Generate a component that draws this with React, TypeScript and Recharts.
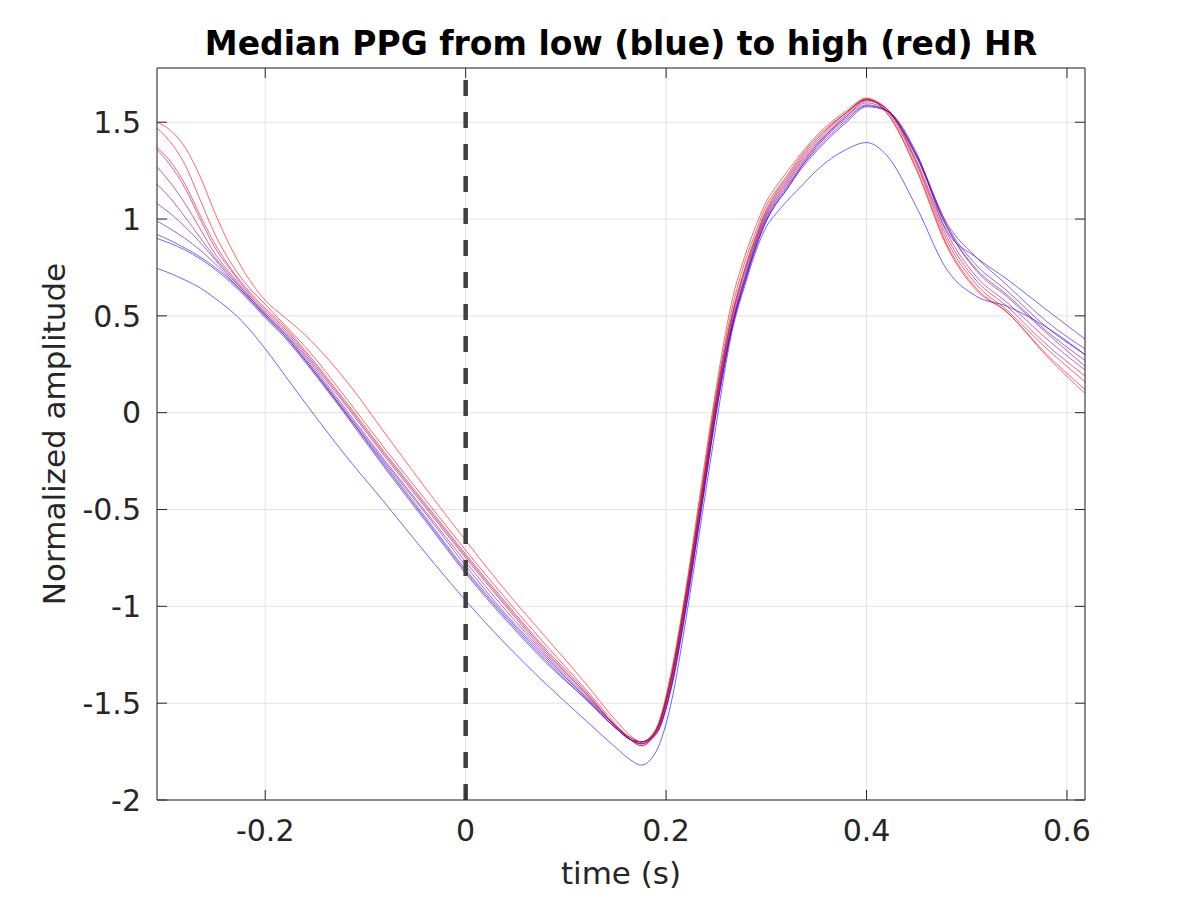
import { LineChart, Line, XAxis, YAxis, CartesianGrid, ReferenceLine, Label } from "recharts";

// time axis (s) shared by every median beat
const TIME = [
  -0.308, -0.295, -0.28, -0.265, -0.25, -0.235, -0.22, -0.2, -0.18, -0.16,
  -0.12, -0.08, -0.04, 0, 0.04, 0.08, 0.12, 0.15, 0.165, 0.175, 0.19, 0.205, 0.22, 0.235, 0.25, 0.265,
  0.28, 0.29, 0.3, 0.31, 0.32, 0.335, 0.35,
  0.38, 0.4, 0.42, 0.45, 0.48, 0.51, 0.54, 0.58, 0.618,
];

// median PPG per HR bin, low HR (blue) -> high HR (red)
const HR01 = [
  0.745, 0.72, 0.685, 0.645, 0.59, 0.53, 0.455, 0.33, 0.19, 0.05,
  -0.22, -0.47, -0.725, -0.97, -1.195, -1.4, -1.59, -1.73, -1.795, -1.82, -1.75, -1.5, -1.06, -0.56, -0.06, 0.4,
  0.68, 0.84, 0.96, 1.03, 1.09, 1.17, 1.25,
  1.36, 1.395, 1.33, 1.06, 0.74, 0.6, 0.55, 0.44, 0.3,
];
const HR02 = [
  0.9, 0.875, 0.84, 0.795, 0.74, 0.675, 0.6, 0.49, 0.385, 0.26,
  -0.01, -0.29, -0.56, -0.83, -1.07, -1.29, -1.48, -1.63, -1.69, -1.7, -1.66, -1.42, -1.0, -0.5, 0.0, 0.42,
  0.7, 0.86, 0.99, 1.08, 1.15, 1.26, 1.35,
  1.5, 1.58, 1.56, 1.34, 0.94, 0.8, 0.69, 0.53, 0.38,
];
const HR03 = [
  0.92, 0.89, 0.85, 0.805, 0.75, 0.685, 0.61, 0.5, 0.395, 0.27,
  0.0, -0.28, -0.55, -0.82, -1.06, -1.28, -1.48, -1.63, -1.69, -1.71, -1.66, -1.43, -1.01, -0.51, 0.0, 0.42,
  0.7, 0.86, 0.99, 1.08, 1.15, 1.27, 1.36,
  1.51, 1.585, 1.56, 1.33, 0.98, 0.8, 0.66, 0.47, 0.33,
];
const HR04 = [
  0.99, 0.95, 0.9, 0.84, 0.77, 0.69, 0.61, 0.5, 0.395, 0.27,
  0.0, -0.27, -0.54, -0.81, -1.05, -1.27, -1.47, -1.63, -1.69, -1.7, -1.65, -1.41, -0.99, -0.49, 0.02, 0.43,
  0.71, 0.87, 1.0, 1.09, 1.16, 1.27, 1.37,
  1.52, 1.59, 1.56, 1.33, 0.97, 0.76, 0.63, 0.44, 0.3,
];
const HR05 = [
  1.08, 1.03, 0.96, 0.88, 0.79, 0.7, 0.62, 0.51, 0.405, 0.28,
  0.01, -0.26, -0.52, -0.79, -1.04, -1.26, -1.47, -1.62, -1.68, -1.7, -1.65, -1.4, -0.98, -0.48, 0.03, 0.44,
  0.72, 0.88, 1.01, 1.1, 1.17, 1.28, 1.38,
  1.53, 1.6, 1.56, 1.32, 0.96, 0.74, 0.61, 0.42, 0.27,
];
const HR06 = [
  1.18, 1.11, 1.01, 0.905, 0.8, 0.71, 0.62, 0.51, 0.41, 0.29,
  0.02, -0.25, -0.51, -0.77, -1.02, -1.25, -1.46, -1.62, -1.68, -1.7, -1.64, -1.38, -0.96, -0.47, 0.04, 0.45,
  0.73, 0.89, 1.02, 1.11, 1.18, 1.29, 1.38,
  1.53, 1.61, 1.57, 1.32, 0.96, 0.73, 0.6, 0.41, 0.24,
];
const HR07 = [
  1.27, 1.19, 1.08, 0.95, 0.82, 0.72, 0.63, 0.52, 0.42, 0.3,
  0.04, -0.23, -0.49, -0.75, -1.0, -1.24, -1.45, -1.62, -1.69, -1.71, -1.64, -1.38, -0.95, -0.45, 0.06, 0.47,
  0.75, 0.9, 1.03, 1.12, 1.19, 1.3, 1.39,
  1.54, 1.615, 1.57, 1.3, 0.93, 0.7, 0.57, 0.38, 0.22,
];
const HR08 = [
  1.36, 1.28, 1.16, 1.0, 0.85, 0.74, 0.64, 0.53, 0.43, 0.31,
  0.05, -0.22, -0.48, -0.74, -0.99, -1.23, -1.45, -1.62, -1.69, -1.71, -1.64, -1.37, -0.94, -0.44, 0.07, 0.48,
  0.76, 0.91, 1.04, 1.13, 1.2, 1.31, 1.4,
  1.55, 1.62, 1.57, 1.29, 0.91, 0.68, 0.55, 0.35, 0.19,
];
const HR09 = [
  1.37, 1.3, 1.18, 1.02, 0.87, 0.75, 0.65, 0.54, 0.44, 0.32,
  0.06, -0.21, -0.47, -0.73, -0.98, -1.22, -1.44, -1.62, -1.69, -1.72, -1.65, -1.37, -0.93, -0.43, 0.08, 0.49,
  0.77, 0.92, 1.05, 1.14, 1.21, 1.32, 1.41,
  1.55, 1.615, 1.56, 1.28, 0.89, 0.66, 0.53, 0.33, 0.16,
];
const HR10 = [
  1.47, 1.4, 1.28, 1.1, 0.92, 0.78, 0.67, 0.56, 0.45, 0.34,
  0.08, -0.19, -0.45, -0.71, -0.96, -1.2, -1.43, -1.61, -1.69, -1.72, -1.64, -1.36, -0.92, -0.41, 0.1, 0.52,
  0.8, 0.94, 1.07, 1.15, 1.22, 1.33, 1.42,
  1.55, 1.62, 1.55, 1.26, 0.87, 0.64, 0.52, 0.3, 0.12,
];
const HR11 = [
  1.5, 1.46, 1.37, 1.22, 1.03, 0.86, 0.72, 0.58, 0.49, 0.4,
  0.17, -0.11, -0.39, -0.66, -0.92, -1.16, -1.4, -1.59, -1.67, -1.7, -1.63, -1.34, -0.9, -0.38, 0.13, 0.56,
  0.83, 0.97, 1.09, 1.17, 1.24, 1.34, 1.43,
  1.56, 1.625, 1.55, 1.25, 0.86, 0.63, 0.52, 0.29, 0.1,
];

const SERIES = [HR01, HR02, HR03, HR04, HR05, HR06, HR07, HR08, HR09, HR10, HR11];
const COLORS = [
  "#0000ff", "#1a00e6", "#3300cc", "#4d00b3", "#660099", "#800080",
  "#990066", "#b3004d", "#cc0033", "#e6001a", "#ff0000",
];

const X_TICKS = [-0.2, 0, 0.2, 0.4, 0.6];
const Y_TICKS = [-2, -1.5, -1, -0.5, 0, 0.5, 1, 1.5];
const X_DOMAIN: [number, number] = [-0.308, 0.618];
const Y_DOMAIN: [number, number] = [-2, 1.78];

const data = TIME.map((t, i) => {
  const row: Record<string, number> = { t };
  SERIES.forEach((s, k) => {
    row[`s${k}`] = s[i];
  });
  return row;
});

const FONT = "'DejaVu Sans', sans-serif";
const INK = "#262626";
const noTick = () => <g />;

export default function App() {
  return (
    <div style={{ position: "absolute", left: 0, top: 0, width: 1200, height: 900, background: "#fff" }}>
      <LineChart width={1200} height={900} data={data} margin={{ top: 0, right: 0, bottom: 0, left: 0 }}>
        <CartesianGrid stroke="#e2e2e2" strokeWidth={1} />
        <XAxis
          dataKey="t"
          type="number"
          domain={X_DOMAIN}
          ticks={X_TICKS}
          tickFormatter={(v) => String(v)}
          height={100}
          stroke={INK}
          tickSize={-10}
          tickMargin={30}
          tick={{ fill: INK, fontSize: 30, fontFamily: FONT }}
          allowDataOverflow
        >
          <Label value="time (s)" position="insideBottom" offset={16} fill={INK} fontSize={31} fontFamily={FONT} />
        </XAxis>
        <XAxis
          xAxisId="top"
          orientation="top"
          dataKey="t"
          type="number"
          domain={X_DOMAIN}
          ticks={X_TICKS}
          height={68}
          stroke={INK}
          tickSize={-10}
          tick={noTick}
          allowDataOverflow
        >
          <Label
            value="Median PPG from low (blue) to high (red) HR"
            position="insideTop"
            offset={32}
            fill="#000"
            fontSize={33}
            fontWeight="bold"
            fontFamily={FONT}
          />
        </XAxis>
        <YAxis
          type="number"
          domain={Y_DOMAIN}
          ticks={Y_TICKS}
          tickFormatter={(v) => String(v)}
          width={157}
          stroke={INK}
          tickSize={-10}
          tickMargin={26}
          tick={{ fill: INK, fontSize: 30, fontFamily: FONT }}
          allowDataOverflow
        >
          <Label
            value="Normalized amplitude"
            angle={-90}
            position="insideLeft"
            offset={54}
            fill={INK}
            fontSize={31}
            fontFamily={FONT}
            style={{ textAnchor: "middle" }}
          />
        </YAxis>
        <YAxis
          yAxisId="right"
          orientation="right"
          type="number"
          domain={Y_DOMAIN}
          ticks={Y_TICKS}
          width={115}
          stroke={INK}
          tickSize={-10}
          tick={noTick}
          allowDataOverflow
        />
        {SERIES.map((_, k) => (
          <Line
            key={k}
            type="monotone"
            dataKey={`s${k}`}
            stroke={COLORS[k]}
            strokeWidth={0.8}
            strokeOpacity={0.75}
            dot={false}
            activeDot={false}
            isAnimationActive={false}
          />
        ))}
        {/* carries the top/right box axes */}
        <Line
          xAxisId="top"
          yAxisId="right"
          dataKey="s0"
          stroke="none"
          dot={false}
          activeDot={false}
          legendType="none"
          isAnimationActive={false}
        />
        <ReferenceLine x={0} stroke="#404040" strokeWidth={4.5} strokeDasharray="16 16" />
      </LineChart>
    </div>
  );
}
